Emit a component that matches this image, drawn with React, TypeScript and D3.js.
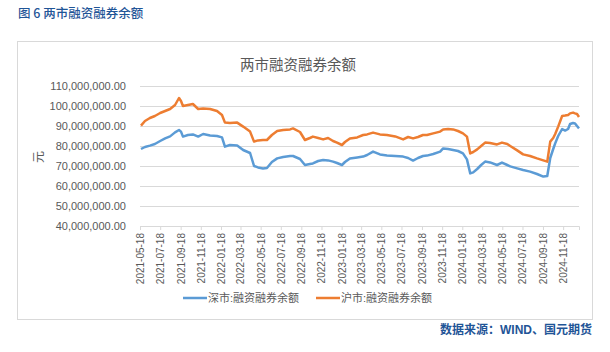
import { useEffect, useRef } from 'react';
import * as d3 from 'd3';

// 日期（约每两周取一点）与两市融资融券余额（单位：百万）
const dates = [
  '2021-05-21', '2021-06-02', '2021-06-17', '2021-07-02', '2021-07-18', '2021-08-02', '2021-08-17',
  '2021-09-01', '2021-09-13', '2021-09-19', '2021-09-25', '2021-10-10', '2021-10-25', '2021-11-10',
  '2021-11-25', '2021-12-16', '2022-01-06', '2022-01-21', '2022-01-30', '2022-02-14', '2022-03-08',
  '2022-03-26', '2022-04-16', '2022-04-28', '2022-05-10', '2022-05-25', '2022-06-06', '2022-06-21',
  '2022-07-07', '2022-07-25', '2022-08-15', '2022-08-24', '2022-09-14', '2022-09-29', '2022-10-14',
  '2022-10-23', '2022-11-08', '2022-11-23', '2022-12-08', '2022-12-23', '2023-01-04', '2023-01-19',
  '2023-01-28', '2023-02-12', '2023-03-06', '2023-03-24', '2023-04-05', '2023-04-23', '2023-05-14',
  '2023-06-04', '2023-06-29', '2023-07-23', '2023-08-07', '2023-08-22', '2023-09-06', '2023-09-21',
  '2023-10-03', '2023-10-22', '2023-11-12', '2023-11-21', '2023-12-06', '2023-12-21', '2024-01-05',
  '2024-01-20', '2024-02-01', '2024-02-11', '2024-02-20', '2024-03-03', '2024-03-15', '2024-03-27',
  '2024-04-11', '2024-05-02', '2024-05-17', '2024-06-02', '2024-06-11', '2024-07-02', '2024-07-20',
  '2024-08-10', '2024-08-31', '2024-09-19', '2024-10-01', '2024-10-10', '2024-10-19', '2024-10-25',
  '2024-11-03', '2024-11-15', '2024-11-24', '2024-12-03', '2024-12-09', '2024-12-18', '2024-12-24',
  '2024-12-30', '2025-01-05',
];

const shenzhen = [
  78.5, 79.5, 80.2, 81.0, 82.5, 83.8, 84.8, 86.8, 88.0, 87.2, 84.7, 85.5, 85.8, 84.7,
  86.0, 85.3, 85.0, 84.3, 79.7, 80.5, 80.3, 78.0, 76.5, 70.0, 69.3, 68.8, 69.0, 72.0,
  73.8, 74.5, 75.0, 75.0, 73.5, 70.5, 71.0, 71.3, 72.5, 73.0, 72.8, 72.2, 71.5, 70.5,
  72.0, 73.8, 74.3, 74.7, 75.5, 77.2, 75.8, 75.3, 75.0, 74.7, 74.0, 72.7, 74.0, 75.0,
  75.2, 76.0, 77.2, 78.8, 78.5, 78.0, 77.5, 76.3, 73.3, 66.3, 66.8, 68.5, 70.5, 72.2,
  71.8, 70.5, 71.7, 70.5, 69.8, 68.8, 68.0, 67.2, 66.0, 64.7, 65.0, 74.0, 78.5, 81.3,
  85.0, 88.5, 87.7, 88.5, 91.0, 91.5, 91.3, 90.0, 88.8,
];

const shanghai = [
  90.2, 92.5, 94.0, 95.0, 96.5, 97.5, 98.5, 100.5, 104.0, 102.5, 100.0, 100.5, 101.0, 98.5,
  98.8, 98.5, 97.5, 95.5, 91.7, 91.5, 91.7, 89.7, 87.2, 82.2, 82.8, 83.0, 83.0, 85.5,
  87.5, 88.0, 88.3, 88.8, 87.0, 83.0, 84.0, 84.7, 84.0, 83.3, 84.0, 82.5, 81.7, 80.5,
  82.0, 83.8, 84.3, 85.5, 85.8, 86.7, 85.8, 85.5, 84.8, 83.3, 84.5, 83.8, 84.5, 85.5,
  85.5, 86.3, 87.2, 88.3, 88.5, 88.3, 87.5, 86.3, 84.7, 76.3, 77.0, 78.3, 80.0, 81.7,
  81.5, 80.8, 81.7, 81.0, 80.0, 77.8, 75.8, 75.0, 73.8, 72.8, 72.2, 82.2, 84.0, 86.0,
  89.7, 95.0, 95.2, 95.5, 96.3, 96.7, 96.3, 96.0, 94.5,
];

const tickLabels = [
  '2021-05-18', '2021-07-18', '2021-09-18', '2021-11-18', '2022-01-18', '2022-03-18',
  '2022-05-18', '2022-07-18', '2022-09-18', '2022-11-18', '2023-01-18', '2023-03-18',
  '2023-05-18', '2023-07-18', '2023-09-18', '2023-11-18', '2024-01-18', '2024-03-18',
  '2024-05-18', '2024-07-18', '2024-09-18', '2024-11-18',
];

const yTicks = [40, 50, 60, 70, 80, 90, 100, 110];

const seriesNames = ['深市:融资融券余额', '沪市:融资融券余额'];
const seriesColors = ['#5b9bd5', '#ed7d31'];

type Point = { date: Date; value: number };

const parse = d3.timeParse('%Y-%m-%d');
const fontFamily = '"Liberation Sans", Arial, "Noto Sans CJK SC", sans-serif';

function drawChart(svgElement: SVGSVGElement) {
  const svg = d3.select(svgElement);
  svg.selectAll('*').remove();

  const width = 610;
  const height = 352;
  const plot = { left: 140, right: 579, top: 86, bottom: 226 };

  svg.attr('width', width).attr('height', height).attr('viewBox', `0 0 ${width} ${height}`);
  svg.append('rect').attr('width', width).attr('height', height).attr('fill', '#ffffff');

  // 页眉、边框与来源
  svg
    .append('text')
    .attr('x', 18)
    .attr('y', 18)
    .attr('fill', '#1f5597')
    .attr('font-size', 12.5)
    .attr('font-weight', 500)
    .attr('font-family', '"Noto Sans CJK SC", sans-serif')
    .text('图 6  两市融资融券余额');

  svg
    .append('rect')
    .attr('x', 17.5)
    .attr('y', 41.5)
    .attr('width', 575)
    .attr('height', 278)
    .attr('fill', 'none')
    .attr('stroke', '#d9d9d9');

  svg
    .append('text')
    .attr('x', 592)
    .attr('y', 334)
    .attr('text-anchor', 'end')
    .attr('fill', '#1f5597')
    .attr('font-size', 12)
    .attr('font-weight', 'bold')
    .attr('font-family', fontFamily)
    .text('数据来源：WIND、国元期货');

  svg
    .append('text')
    .attr('x', 298)
    .attr('y', 70)
    .attr('text-anchor', 'middle')
    .attr('fill', '#595959')
    .attr('font-size', 14.5)
    .attr('font-family', fontFamily)
    .text('两市融资融券余额');

  const x = d3
    .scaleTime()
    .domain([parse(tickLabels[0]) as Date, parse(dates[dates.length - 1]) as Date])
    .range([plot.left, plot.right]);

  const y = d3
    .scaleLinear()
    .domain([40e6, 110e6])
    .range([plot.bottom, plot.top]);

  // 网格线与纵轴标签
  const yAxis = svg
    .append('g')
    .attr('transform', `translate(${plot.left},0)`)
    .call(
      d3
        .axisLeft(y)
        .tickValues(yTicks.map((v) => v * 1e6))
        .tickSize(-(plot.right - plot.left))
        .tickPadding(14)
        .tickFormat((v) => d3.format(',.2f')(v as number))
    );
  yAxis.select('.domain').remove();
  yAxis.selectAll('line').attr('stroke', '#d9d9d9');
  yAxis
    .selectAll('text')
    .attr('fill', '#595959')
    .attr('font-size', 11)
    .attr('font-family', fontFamily);

  svg
    .append('text')
    .attr('transform', 'translate(43,157) rotate(-90)')
    .attr('text-anchor', 'middle')
    .attr('fill', '#595959')
    .attr('font-size', 12)
    .attr('font-family', fontFamily)
    .text('元');

  // 横轴
  const xAxis = svg
    .append('g')
    .attr('transform', `translate(0,${plot.bottom})`)
    .call(
      d3
        .axisBottom(x)
        .tickValues(tickLabels.map((t) => parse(t) as Date))
        .tickSize(4)
        .tickFormat((d) => d3.timeFormat('%Y-%m-%d')(d as Date))
    );
  xAxis.select('.domain').attr('stroke', '#d9d9d9');
  xAxis.selectAll('line').attr('stroke', '#d9d9d9');
  xAxis
    .selectAll('text')
    .attr('transform', 'rotate(-90)')
    .attr('text-anchor', 'end')
    .attr('x', -7)
    .attr('y', 0)
    .attr('dy', '0.35em')
    .attr('fill', '#595959')
    .attr('font-size', 10)
    .attr('font-family', fontFamily);

  // 折线
  const line = d3
    .line<Point>()
    .x((p) => x(p.date))
    .y((p) => y(p.value));

  [shenzhen, shanghai].forEach((values, i) => {
    const points: Point[] = values.map((v, j) => ({ date: parse(dates[j]) as Date, value: v * 1e6 }));
    svg
      .append('path')
      .datum(points)
      .attr('d', line)
      .attr('fill', 'none')
      .attr('stroke', seriesColors[i])
      .attr('stroke-width', 2.5)
      .attr('stroke-linejoin', 'round');
  });

  // 图例
  const legendX = [183, 316];
  seriesNames.forEach((name, i) => {
    const g = svg.append('g').attr('transform', `translate(${legendX[i]},298)`);
    g.append('line')
      .attr('x1', 0)
      .attr('x2', 24)
      .attr('stroke', seriesColors[i])
      .attr('stroke-width', 2.5);
    g.append('text')
      .attr('x', 25)
      .attr('dy', '0.35em')
      .attr('fill', '#595959')
      .attr('font-size', 11)
      .attr('font-family', fontFamily)
      .text(name);
  });
}

export default function App() {
  const ref = useRef<SVGSVGElement>(null);

  useEffect(() => {
    if (ref.current) {
      drawChart(ref.current);
    }
  }, []);

  return (
    <div style={{ position: 'absolute', left: 0, top: 0 }}>
      <svg ref={ref} style={{ display: 'block' }} />
    </div>
  );
}
